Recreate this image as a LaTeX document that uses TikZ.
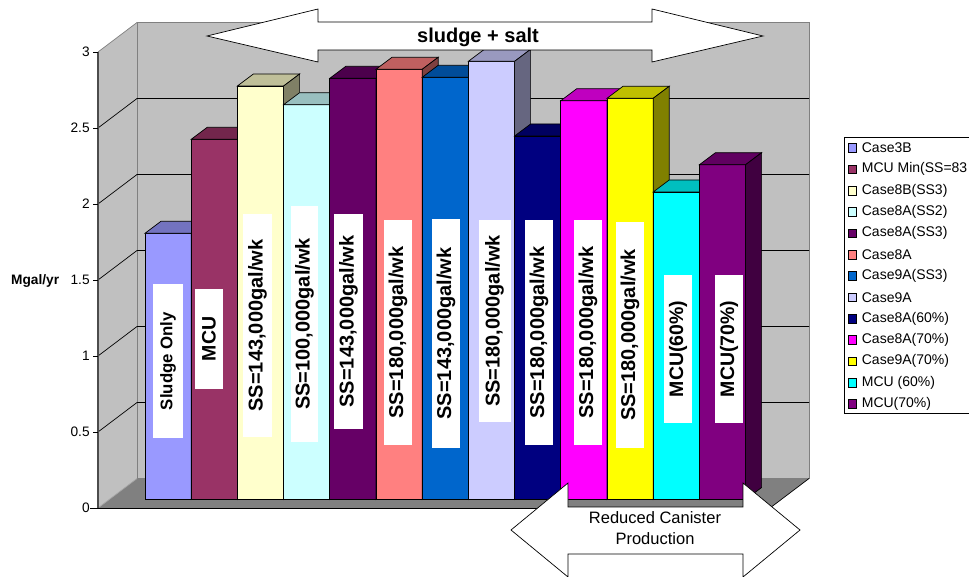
\documentclass[tikz,border=0pt]{standalone}
\usepackage{fontspec}
\setmainfont{Liberation Sans}
\definecolor{c1}{HTML}{9999FF}
\definecolor{c2}{HTML}{993366}
\definecolor{c3}{HTML}{FFFFCC}
\definecolor{c4}{HTML}{CCFFFF}
\definecolor{c5}{HTML}{660066}
\definecolor{c6}{HTML}{FF8080}
\definecolor{c7}{HTML}{0066CC}
\definecolor{c8}{HTML}{CCCCFF}
\definecolor{c9}{HTML}{000080}
\definecolor{c10}{HTML}{FF00FF}
\definecolor{c11}{HTML}{FFFF00}
\definecolor{c12}{HTML}{00FFFF}
\definecolor{c13}{HTML}{800080}
\definecolor{wallgray}{HTML}{C0C0C0}
\definecolor{floorgray}{HTML}{808080}
\tikzset{
  barlab/.style={rotate=90, fill=white, inner sep=0pt, font=\bfseries\fontsize{20}{20}\selectfont},
  ticklab/.style={anchor=east, inner sep=0pt, font=\fontsize{13.7}{14}\selectfont},
  legtext/.style={anchor=west, inner sep=0pt, font=\fontsize{14}{14}\selectfont},
  legmark/.style={draw=black, line width=0.6pt, minimum size=8.5pt, inner sep=0pt},
  bigarrow/.style={fill=white, draw=black, line width=0.7pt, line join=miter},
}
\begin{document}
\begin{tikzpicture}[x=1pt, y=-1pt, line width=0.7pt]
\useasboundingbox (0,0) rectangle (969,577);
\clip (0,0) rectangle (969,577);
% side wall
\fill[wallgray] (98,52) -- (137,22.5) -- (137,478.5) -- (98,508) -- cycle;
% back wall
\filldraw[fill=wallgray, draw=floorgray] (137,22.5) rectangle (809,478.5);
% floor
\fill[floorgray] (98,508) -- (137,478.5) -- (809,478.5) -- (770,508) -- cycle;
\draw[black!35] (98,508) -- (137,478.5);
\draw[black] (809,478.5) -- (770,508);
\draw[floorgray] (98,52) -- (137,22.5);
% gridlines
\foreach \v in {0.5,1,1.5,2,2.5} {
  \draw[black] (98,508-152*\v) -- (137,478.5-152*\v) -- (809,478.5-152*\v);
}
% front axis and ticks
\draw[black!70, line width=1.5pt] (98,52) -- (98,508);
\draw[black] (90,508) -- (770,508);
\foreach \v/\t in {0/0,0.5/0.5,1/1,1.5/1.5,2/2,2.5/2.5,3/3} {
  \draw[black] (93,508-152*\v) -- (98,508-152*\v);
  \node[ticklab] (tick\t) at (90,508-152*\v) {\t};
}
\node[anchor=east, inner sep=0pt, font=\bfseries\fontsize{13.7}{14}\selectfont] (ylab) at (59.5,281) {Mgal/yr};
% bars
\foreach \top/\col [count=\i] in {233.3/c1,139.3/c2,86/c3,104.7/c4,78.3/c5,69.3/c6,77.3/c7,61.3/c8,136/c9,100.7/c10,98.3/c11,192/c12,164.7/c13} {
  \pgfmathsetmacro{\xl}{145+46.2*(\i-1)}
  \pgfmathsetmacro{\xr}{\xl+46.2}
  \filldraw[fill=\col, draw=black] (\xl,\top) rectangle (\xr,499.5);
  \filldraw[fill=\col!75!black, draw=black] (\xl,\top) -- ++(16,-12) -- (\xr+16,\top-12) -- (\xr,\top) -- cycle;
  \filldraw[fill=\col!50!black, draw=black] (\xr,\top) -- (\xr+16,\top-12) -- (\xr+16,487.5) -- (\xr,499.5) -- cycle;
}
% bar labels
\node[barlab, font=\bfseries\fontsize{16.8}{17}\selectfont, minimum width=154pt, minimum height=30pt] (l1) at (168,361) {Sludge Only};
\node[barlab, font=\bfseries\fontsize{19.5}{20}\selectfont, minimum width=100pt, minimum height=28pt] (l2) at (209,339) {MCU};
\node[barlab, minimum width=223pt, minimum height=29pt] (l3) at (257.5,325.5) {SS=143,000gal/wk};
\node[barlab, minimum width=236pt, minimum height=27pt] (l4) at (304.5,324) {SS=100,000gal/wk};
\node[barlab, minimum width=215pt, minimum height=29pt] (l5) at (348.5,321.5) {SS=143,000gal/wk};
\node[barlab, minimum width=225pt, minimum height=28pt] (l6) at (398,332.5) {SS=180,000gal/wk};
\node[barlab, minimum width=229pt, minimum height=28pt] (l7) at (446,333.5) {SS=143,000gal/wk};
\node[barlab, minimum width=202pt, minimum height=32pt] (l8) at (494.5,321) {SS=180,000gal/wk};
\node[barlab, minimum width=225pt, minimum height=28pt] (l9) at (539,332.5) {SS=180,000gal/wk};
\node[barlab, minimum width=225pt, minimum height=28pt] (l10) at (588,332.5) {SS=180,000gal/wk};
\node[barlab, minimum width=226pt, minimum height=28pt] (l11) at (630,335) {SS=180,000gal/wk};
\node[barlab, font=\bfseries\fontsize{19.5}{20}\selectfont, minimum width=148pt, minimum height=28pt] (l12) at (678,349) {MCU(60\%)};
\node[barlab, font=\bfseries\fontsize{19.5}{20}\selectfont, minimum width=148pt, minimum height=28pt] (l13) at (729,349) {MCU(70\%)};
% top double arrow
\draw[bigarrow] (207,36) -- (318,9) -- (318,22) -- (652,22) -- (652,9) -- (763,36) -- (652,62) -- (652,50) -- (318,50) -- (318,62) -- cycle;
\node[font=\bfseries\fontsize{20}{20}\selectfont, inner sep=0pt] (title) at (478,37) {sludge + salt};
% bottom double arrow
\draw[bigarrow] (511,530) -- (568,483) -- (568,507) -- (743,507) -- (743,483) -- (800,530) -- (743,577) -- (743,554) -- (568,554) -- (568,577) -- cycle;
\node[align=center, font=\fontsize{16.5}{21}\selectfont, inner sep=0pt] (reduced) at (655,528) {Reduced Canister\\Production};
% legend
\draw[fill=white, draw=black, line width=0.8pt] (844,137) rectangle (980,413);
\foreach \name/\col [count=\i] in {Case3B/c1,MCU Min(SS=83/c2,Case8B(SS3)/c3,Case8A(SS2)/c4,Case8A(SS3)/c5,Case8A/c6,Case9A(SS3)/c7,Case9A/c8,Case8A(60\%)/c9,Case8A(70\%)/c10,Case9A(70\%)/c11,MCU (60\%)/c12,MCU(70\%)/c13} {
  \node[legmark, fill=\col] (m\i) at (852.5,148+21.33*\i-21.33) {};
  \node[legtext] (t\i) at (861.5,148+21.33*\i-21.33) {\name};
}
\end{tikzpicture}
\end{document}
